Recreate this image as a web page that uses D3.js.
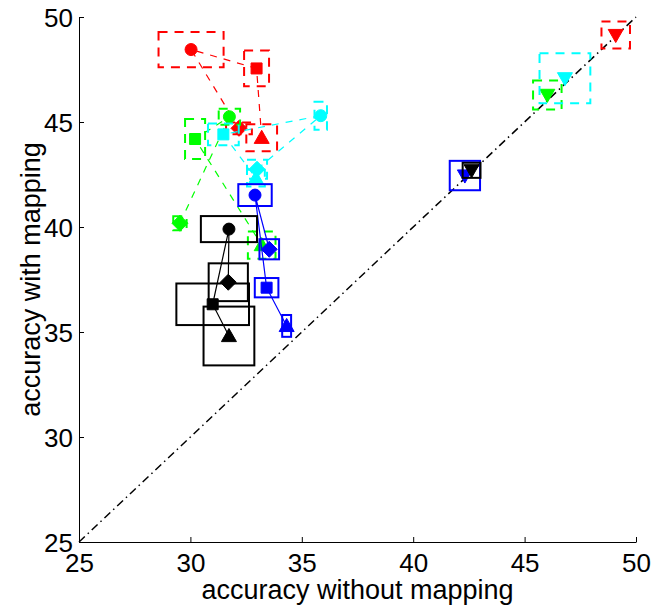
<!DOCTYPE html>
<html>
<head>
<meta charset="utf-8">
<script src="https://cdn.jsdelivr.net/npm/d3@7"></script>
<style>
  body { margin: 0; background: #fff; }
  text { font-family: "Liberation Sans", Arial, Helvetica, sans-serif; }
</style>
</head>
<body>
<div id="chart"></div>
<script>
// marker order in every array: circle, square, diamond, triangle up, triangle down
var markers = ["circle", "square", "diamond", "up", "down"];

var redX  = [30.03, 32.97, 32.18, 33.20, 49.09];
var redY  = [48.45, 47.55, 44.70, 44.25, 49.14];
var redW  = [1.46, 0.56, 0.58, 0.69, 0.64];
var redH  = [0.84, 0.85, 0.28, 0.64, 0.64];

var greenX = [31.75, 30.21, 29.53, 33.20, 46.02];
var greenY = [45.25, 44.19, 40.18, 39.14, 46.29];
var greenW = [0.48, 0.45, 0.30, 0.62, 0.64];
var greenH = [0.38, 0.95, 0.33, 0.65, 0.69];

var cyanX = [35.85, 31.48, 32.99, 32.94, 46.81];
var cyanY = [45.30, 44.41, 42.75, 42.33, 47.08];
var cyanW = [0.28, 0.69, 0.45, 0.40, 1.14];
var cyanH = [0.67, 0.52, 0.45, 0.40, 1.19];

var blueX = [32.90, 33.42, 33.54, 34.32, 42.32];
var blueY = [41.52, 37.11, 38.94, 35.29, 42.45];
var blueW = [0.75, 0.53, 0.44, 0.20, 0.68];
var blueH = [0.52, 0.46, 0.48, 0.52, 0.70];

var blackX = [31.73, 31.00, 31.70, 31.73, 42.62];
var blackY = [39.90, 36.32, 37.37, 34.81, 42.70];
var blackW = [1.26, 1.63, 0.88, 1.14, 0.40];
var blackH = [0.62, 0.99, 0.90, 1.40, 0.36];

var xTicks = [25, 30, 35, 40, 45, 50];
var yTicks = [25, 30, 35, 40, 45, 50];

// line drawn through diamond -> circle -> square -> triangle up
var pathOrder = [2, 0, 1, 3];

var series = [
  {color: "#ff0000", dashed: true,  x: redX,   y: redY,   w: redW,   h: redH},
  {color: "#00ff00", dashed: true,  x: greenX, y: greenY, w: greenW, h: greenH},
  {color: "#00ffff", dashed: true,  x: cyanX,  y: cyanY,  w: cyanW,  h: cyanH},
  {color: "#0000ff", dashed: false, x: blueX,  y: blueY,  w: blueW,  h: blueH},
  {color: "#000000", dashed: false, x: blackX, y: blackY, w: blackW, h: blackH}
];

var width = 651, height = 608;
var margin = {left: 79, right: 15, top: 17, bottom: 66};

var svg = d3.select("#chart").append("svg")
    .attr("width", width)
    .attr("height", height);

var x = d3.scaleLinear().domain([25, 50]).range([margin.left, width - margin.right]);
var y = d3.scaleLinear().domain([25, 50]).range([height - margin.bottom, margin.top]);

// axes (MATLAB style, ticks pointing inward, box off)
var xAxis = svg.append("g")
    .attr("transform", "translate(0," + y(25) + ")")
    .call(d3.axisBottom(x).tickValues(xTicks).tickSizeInner(-5).tickSizeOuter(0).tickPadding(8));
var yAxis = svg.append("g")
    .attr("transform", "translate(" + x(25) + ",0)")
    .call(d3.axisLeft(y).tickValues(yTicks).tickSizeInner(-5).tickSizeOuter(0).tickPadding(6));

[xAxis, yAxis].forEach(function(a) {
  a.select(".domain").attr("stroke", "#000").attr("stroke-width", 1);
  a.selectAll(".tick line").attr("stroke", "#000");
  a.selectAll("text").attr("font-size", 26).attr("fill", "#000")
    .style("font-family", "'Liberation Sans', Arial, sans-serif");
});
xAxis.selectAll("text").attr("dy", "0.72em").attr("y", 11);
yAxis.selectAll("text").attr("dy", "0.36em");

// diagonal reference line
svg.append("line")
    .attr("x1", x(25)).attr("y1", y(25))
    .attr("x2", x(50)).attr("y2", y(50))
    .attr("stroke", "#000")
    .attr("stroke-width", 1.5)
    .attr("stroke-dasharray", "8,4,1.5,4");

function markerPath(type, cx, cy) {
  if (type === "circle") {
    var r = 6;
    return "M" + (cx - r) + "," + cy + "a" + r + "," + r + " 0 1,0 " + (2 * r) + ",0a" + r + "," + r + " 0 1,0 " + (-2 * r) + ",0Z";
  }
  if (type === "square") {
    var s = 5.5;
    return "M" + (cx - s) + "," + (cy - s) + "h" + (2 * s) + "v" + (2 * s) + "h" + (-2 * s) + "Z";
  }
  if (type === "diamond") {
    var d = 8;
    return "M" + cx + "," + (cy - d) + "L" + (cx + d) + "," + cy + "L" + cx + "," + (cy + d) + "L" + (cx - d) + "," + cy + "Z";
  }
  if (type === "up") {
    var t = 7.5;
    return "M" + cx + "," + (cy - t) + "L" + (cx + t) + "," + (cy + t * 0.75) + "L" + (cx - t) + "," + (cy + t * 0.75) + "Z";
  }
  var u = 7.5;
  return "M" + cx + "," + (cy + u) + "L" + (cx + u) + "," + (cy - u * 0.75) + "L" + (cx - u) + "," + (cy - u * 0.75) + "Z";
}

series.forEach(function(s) {
  var g = svg.append("g");
  var pts = markers.map(function(m, i) {
    return {type: m, x: s.x[i], y: s.y[i], w: s.w[i], h: s.h[i]};
  });

  // spread boxes
  g.selectAll("rect")
    .data(pts)
    .enter().append("rect")
      .attr("x", function(d) { return x(d.x - d.w); })
      .attr("y", function(d) { return y(d.y + d.h); })
      .attr("width", function(d) { return x(d.x + d.w) - x(d.x - d.w); })
      .attr("height", function(d) { return y(d.y - d.h) - y(d.y + d.h); })
      .attr("fill", "none")
      .attr("stroke", s.color)
      .attr("stroke-width", 2)
      .attr("stroke-dasharray", s.dashed ? "9,7" : null);

  // connecting line
  var line = d3.line()
      .x(function(d) { return x(d.x); })
      .y(function(d) { return y(d.y); });
  g.append("path")
      .datum(pathOrder.map(function(i) { return pts[i]; }))
      .attr("d", line)
      .attr("fill", "none")
      .attr("stroke", s.color)
      .attr("stroke-width", 1.2)
      .attr("stroke-dasharray", s.dashed ? "7,7" : null);

  // markers
  g.selectAll("path.mk")
    .data(pts)
    .enter().append("path")
      .attr("class", "mk")
      .attr("d", function(d) { return markerPath(d.type, x(d.x), y(d.y)); })
      .attr("fill", s.color)
      .attr("stroke", s.color)
      .attr("stroke-width", 1);
});

// axis labels
svg.append("text")
    .attr("x", (x(25) + x(50)) / 2)
    .attr("y", 599)
    .attr("text-anchor", "middle")
    .attr("font-size", 27)
    .text("accuracy without mapping");

svg.append("text")
    .attr("transform", "translate(40," + ((y(25) + y(50)) / 2) + ") rotate(-90)")
    .attr("text-anchor", "middle")
    .attr("font-size", 27)
    .text("accuracy with mapping");
</script>
</body>
</html>
